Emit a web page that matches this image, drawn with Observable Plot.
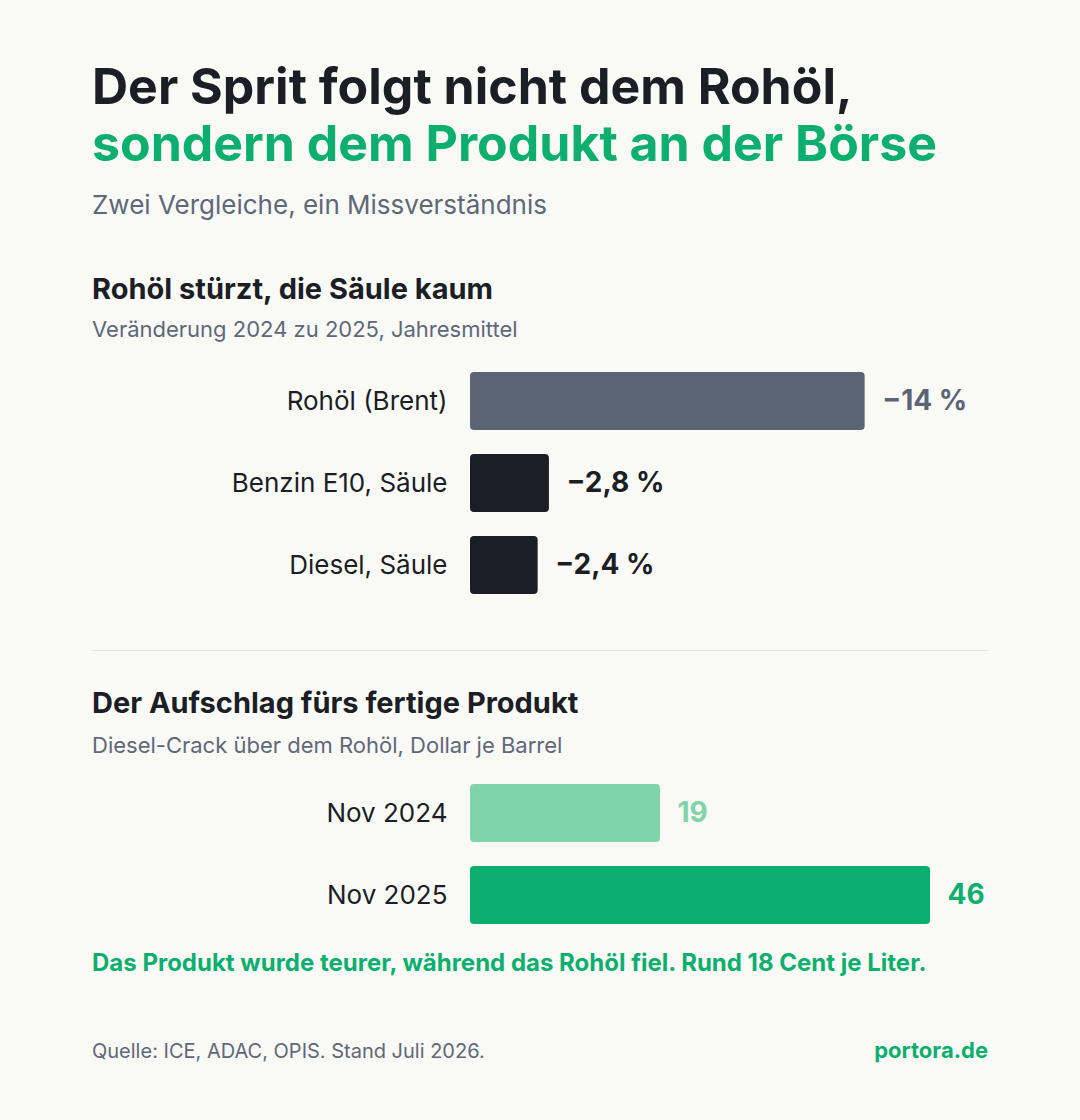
<!DOCTYPE html>
<html lang="de">
<head>
<meta charset="utf-8">
<script src="https://cdn.jsdelivr.net/npm/d3@7"></script>
<script src="https://cdn.jsdelivr.net/npm/@observablehq/plot@0.6"></script>
<style>
  html, body { margin: 0; padding: 0; background: #f9f9f6; }
  body { font-family: Inter, "Noto Sans", sans-serif; color: #1b1e25; }
  #page { position: relative; width: 1080px; height: 1120px; overflow: hidden; background: #f9f9f6; }
  .abs { position: absolute; left: 92px; white-space: nowrap; line-height: 1; }
  .title { font-size: 50px; font-weight: 700; }
  .green { color: #0daf6f; }
  .sub { font-size: 26px; color: #5f6878; }
  .head { font-size: 29px; font-weight: 700; }
  .note { font-size: 22px; color: #5f6878; }
  .chart { position: absolute; left: 92px; }
  .rule { position: absolute; left: 92px; width: 896px; top: 650px; height: 1px; background: #e2e2de; }
  .claim { font-size: 24px; font-weight: 700; color: #0daf6f; }
  .src { font-size: 20px; color: #5f6878; }
  .brand { position: absolute; right: 92px; left: auto; font-size: 22px; font-weight: 700; color: #0daf6f; }
</style>
</head>
<body>
<div id="page">
  <div class="abs title" style="top:61px">Der Sprit folgt nicht dem Rohöl,</div>
  <div class="abs title green" style="top:118px">sondern dem Produkt an der Börse</div>
  <div class="abs sub" style="top:192px">Zwei Vergleiche, ein Missverständnis</div>

  <div class="abs head" style="top:274px">Rohöl stürzt, die Säule kaum</div>
  <div class="abs note" style="top:318px">Veränderung 2024 zu 2025, Jahresmittel</div>
  <div class="chart" id="chart1" style="top:360px"></div>

  <div class="rule"></div>

  <div class="abs head" style="top:688px">Der Aufschlag fürs fertige Produkt</div>
  <div class="abs note" style="top:734px">Diesel-Crack über dem Rohöl, Dollar je Barrel</div>
  <div class="chart" id="chart2" style="top:772px"></div>

  <div class="abs claim" style="top:951px">Das Produkt wurde teurer, während das Rohöl fiel. Rund 18 Cent je Liter.</div>
  <div class="abs src" style="top:1041px">Quelle: ICE, ADAC, OPIS. Stand Juli 2026.</div>
  <div class="abs brand" style="top:1039px">portora.de</div>
</div>

<script>
// Veränderung der Jahresmittel 2024 → 2025, in Prozent
const priceCategories = ["Rohöl (Brent)", "Benzin E10, Säule", "Diesel, Säule"];
const priceChanges = [-14, -2.8, -2.4];

// Diesel-Crack über Brent, Dollar je Barrel
const crackMonths = ["Nov 2024", "Nov 2025"];
const crackValues = [19, 46];

// Farben
const INK = "#1b1e25";
const SLATE = "#5b6475";
const GREEN = "#0daf6f";
const GREEN_LIGHT = "#80d4aa";
const priceColors = [SLATE, INK, INK];
const crackColors = [GREEN_LIGHT, GREEN];

const de = new Intl.NumberFormat("de-DE", {maximumFractionDigits: 1});

const priceRows = priceCategories.map((name, i) => ({
  name,
  value: priceChanges[i],
  color: priceColors[i],
  label: (priceChanges[i] < 0 ? "\u2212" : "") + de.format(Math.abs(priceChanges[i])) + " %"
}));

const crackRows = crackMonths.map((name, i) => ({
  name,
  value: crackValues[i],
  color: crackColors[i],
  label: de.format(crackValues[i])
}));

const common = {
  width: 896,
  marginLeft: 378,
  marginTop: 0,
  marginBottom: 0,
  style: {background: "transparent", color: INK, fontFamily: "Inter, 'Noto Sans', sans-serif", overflow: "visible"}
};

// Horizontale Balken: Beträge als Länge, Beschriftung mit Vorzeichen
function barChart(rows, xDomain, marginRight) {
  return Plot.plot({
    ...common,
    height: rows.length * 82,
    marginRight,
    x: {domain: xDomain, axis: null},
    y: {domain: rows.map(d => d.name), paddingInner: 24 / 82, paddingOuter: 12 / 82, label: null},
    marks: [
      Plot.axisY({tickSize: 0, tickPadding: 23, fontSize: 26, fill: INK, label: null}),
      Plot.barX(rows, {x: d => Math.abs(d.value), y: "name", fill: d => d.color, rx: 4}),
      Plot.text(rows, {
        x: d => Math.abs(d.value), y: "name", text: "label",
        dx: 17, textAnchor: "start", fontSize: 28, fontWeight: 700,
        fill: d => d.color
      })
    ]
  });
}

document.getElementById("chart1").append(barChart(priceRows, [0, 16], 67));
document.getElementById("chart2").append(barChart(crackRows, [0, 50], 18));
</script>
</body>
</html>
